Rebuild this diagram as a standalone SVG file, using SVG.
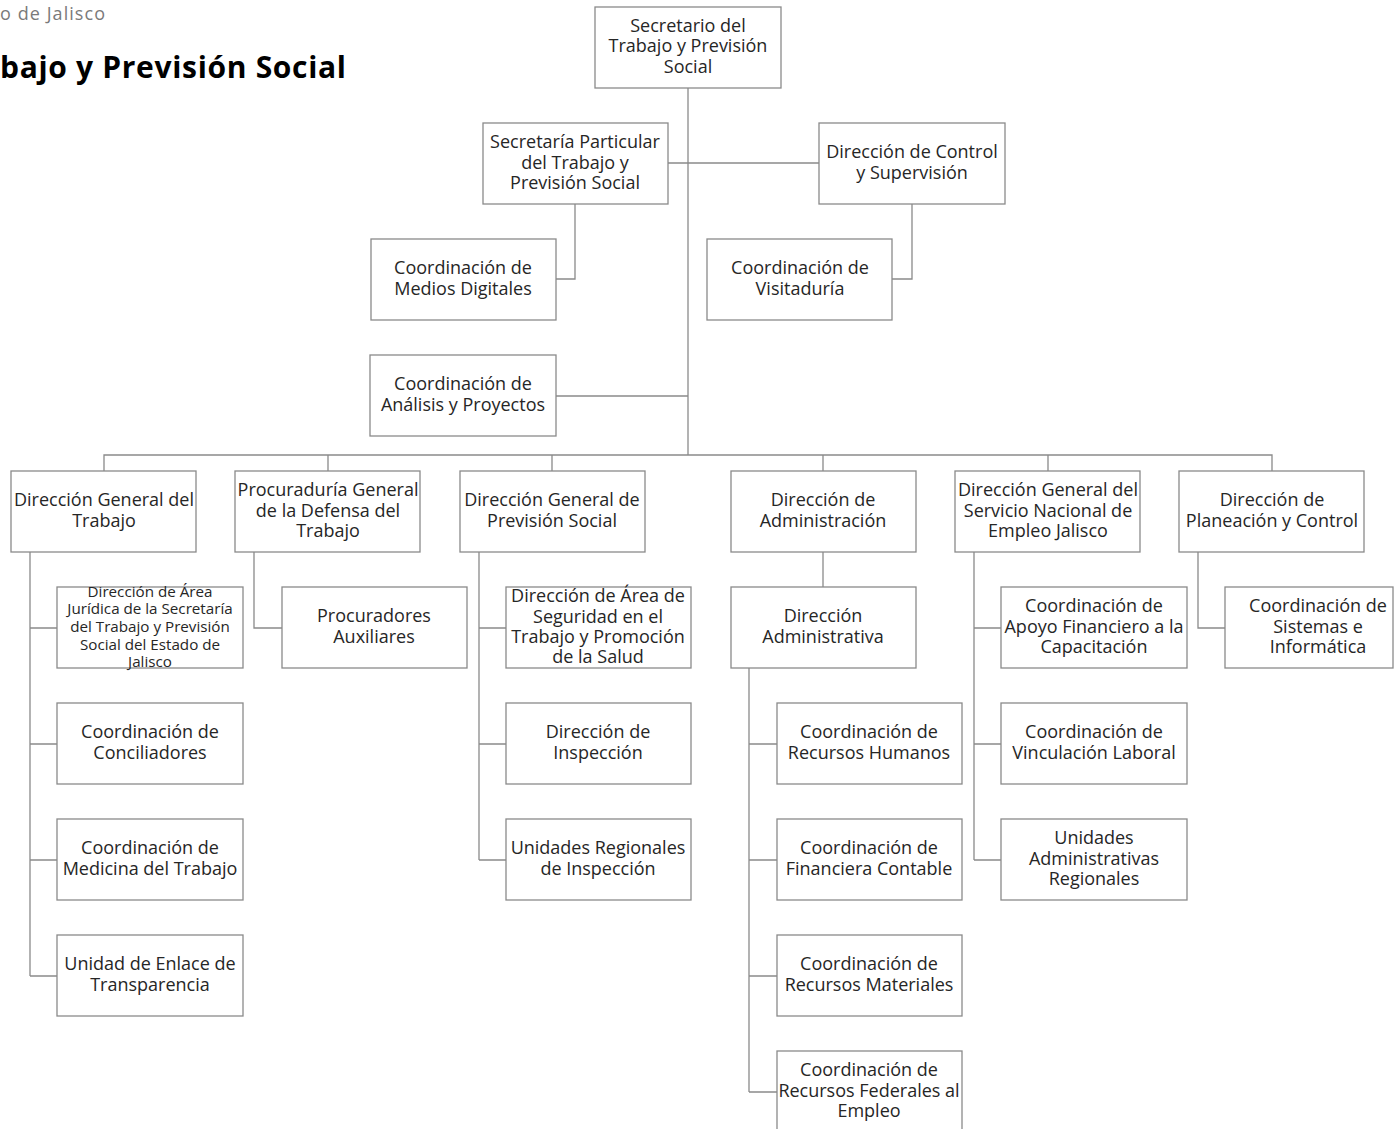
<svg xmlns="http://www.w3.org/2000/svg" width="1394" height="1129" viewBox="0 0 1394 1129">
<style>
.b{fill:#fff;stroke:#8a8a8a;stroke-width:1.3}
.t{font-family:"Open Sans","Liberation Sans",sans-serif;font-size:18px;fill:#262626;text-anchor:middle}
.s{font-size:15.2px}
.c{fill:none;stroke:#8a8a8a;stroke-width:1.3}
</style>
<rect width="1394" height="1129" fill="#fff"/>
<text x="0" y="20" textLength="105" style="font-family:'Open Sans','Liberation Sans',sans-serif;font-size:18px;fill:#7a7a7a">o de Jalisco</text>
<text x="0" y="78" textLength="346" style="font-family:'Open Sans','Liberation Sans',sans-serif;font-size:30px;font-weight:bold;fill:#000">bajo y Previsión Social</text>
<g id="connectors" class="c">
<path d="M688 88V455"/>
<path d="M668 163H819"/>
<path d="M575 204V279H556"/>
<path d="M912 204V279H892"/>
<path d="M556 396H688"/>
<path d="M104 471V455H1272V471"/>
<path d="M328 455V471M552 455V471M823 455V471M1048 455V471"/>
<path d="M30 552V976M30 628H57M30 744H57M30 860H57M30 976H57"/>
<path d="M254 552V628H282"/>
<path d="M479 552V860M479 628H506M479 744H506M479 860H506"/>
<path d="M823 552V587"/>
<path d="M749 668V1092M749 744H777M749 860H777M749 976H777M749 1092H777"/>
<path d="M974 552V860M974 628H1001M974 744H1001M974 860H1001"/>
<path d="M1198 552V628H1225"/>
</g>
<g id="n-secretario"><rect class="b" x="595" y="7" width="186" height="81"/><text class="t"><tspan x="688" y="32">Secretario del</tspan><tspan x="688" y="52">Trabajo y Previsión</tspan><tspan x="688" y="73">Social</tspan></text></g>
<g id="n-particular"><rect class="b" x="483" y="123" width="185" height="81"/><text class="t"><tspan x="575" y="148">Secretaría Particular</tspan><tspan x="575" y="169">del Trabajo y</tspan><tspan x="575" y="189">Previsión Social</tspan></text></g>
<g id="n-control"><rect class="b" x="819" y="123" width="186" height="81"/><text class="t"><tspan x="912" y="158">Dirección de Control</tspan><tspan x="912" y="179">y Supervisión</tspan></text></g>
<g id="n-medios"><rect class="b" x="371" y="239" width="185" height="81"/><text class="t"><tspan x="463" y="274">Coordinación de</tspan><tspan x="463" y="295">Medios Digitales</tspan></text></g>
<g id="n-visitaduria"><rect class="b" x="707" y="239" width="185" height="81"/><text class="t"><tspan x="800" y="274">Coordinación de</tspan><tspan x="800" y="295">Visitaduría</tspan></text></g>
<g id="n-analisis"><rect class="b" x="370" y="355" width="186" height="81"/><text class="t"><tspan x="463" y="390">Coordinación de</tspan><tspan x="463" y="411">Análisis y Proyectos</tspan></text></g>
<g id="n-dgt"><rect class="b" x="11" y="471" width="185" height="81"/><text class="t"><tspan x="104" y="506">Dirección General del</tspan><tspan x="104" y="527">Trabajo</tspan></text></g>
<g id="n-procuraduria"><rect class="b" x="235" y="471" width="185" height="81"/><text class="t"><tspan x="328" y="496">Procuraduría General</tspan><tspan x="328" y="517">de la Defensa del</tspan><tspan x="328" y="537">Trabajo</tspan></text></g>
<g id="n-dgps"><rect class="b" x="460" y="471" width="185" height="81"/><text class="t"><tspan x="552" y="506">Dirección General de</tspan><tspan x="552" y="527">Previsión Social</tspan></text></g>
<g id="n-admin"><rect class="b" x="731" y="471" width="185" height="81"/><text class="t"><tspan x="823" y="506">Dirección de</tspan><tspan x="823" y="527">Administración</tspan></text></g>
<g id="n-snej"><rect class="b" x="955" y="471" width="185" height="81"/><text class="t"><tspan x="1048" y="496">Dirección General del</tspan><tspan x="1048" y="517">Servicio Nacional de</tspan><tspan x="1048" y="537">Empleo Jalisco</tspan></text></g>
<g id="n-planeacion"><rect class="b" x="1179" y="471" width="185" height="81"/><text class="t"><tspan x="1272" y="506">Dirección de</tspan><tspan x="1272" y="527">Planeación y Control</tspan></text></g>
<g id="n-juridica"><rect class="b" x="57" y="587" width="186" height="81"/><text class="t s"><tspan x="150" y="597">Dirección de Área</tspan><tspan x="150" y="614">Jurídica de la Secretaría</tspan><tspan x="150" y="632">del Trabajo y Previsión</tspan><tspan x="150" y="650">Social del Estado de</tspan><tspan x="150" y="667">Jalisco</tspan></text></g>
<g id="n-conciliadores"><rect class="b" x="57" y="703" width="186" height="81"/><text class="t"><tspan x="150" y="738">Coordinación de</tspan><tspan x="150" y="759">Conciliadores</tspan></text></g>
<g id="n-medicina"><rect class="b" x="57" y="819" width="186" height="81"/><text class="t"><tspan x="150" y="854">Coordinación de</tspan><tspan x="150" y="875">Medicina del Trabajo</tspan></text></g>
<g id="n-transparencia"><rect class="b" x="57" y="935" width="186" height="81"/><text class="t"><tspan x="150" y="970">Unidad de Enlace de</tspan><tspan x="150" y="991">Transparencia</tspan></text></g>
<g id="n-procuradores"><rect class="b" x="282" y="587" width="185" height="81"/><text class="t"><tspan x="374" y="622">Procuradores</tspan><tspan x="374" y="643">Auxiliares</tspan></text></g>
<g id="n-seguridad"><rect class="b" x="506" y="587" width="185" height="81"/><text class="t"><tspan x="598" y="602">Dirección de Área de</tspan><tspan x="598" y="623">Seguridad en el</tspan><tspan x="598" y="643">Trabajo y Promoción</tspan><tspan x="598" y="663">de la Salud</tspan></text></g>
<g id="n-inspeccion"><rect class="b" x="506" y="703" width="185" height="81"/><text class="t"><tspan x="598" y="738">Dirección de</tspan><tspan x="598" y="759">Inspección</tspan></text></g>
<g id="n-regionales-insp"><rect class="b" x="506" y="819" width="185" height="81"/><text class="t"><tspan x="598" y="854">Unidades Regionales</tspan><tspan x="598" y="875">de Inspección</tspan></text></g>
<g id="n-dir-administrativa"><rect class="b" x="731" y="587" width="185" height="81"/><text class="t"><tspan x="823" y="622">Dirección</tspan><tspan x="823" y="643">Administrativa</tspan></text></g>
<g id="n-rh"><rect class="b" x="777" y="703" width="185" height="81"/><text class="t"><tspan x="869" y="738">Coordinación de</tspan><tspan x="869" y="759">Recursos Humanos</tspan></text></g>
<g id="n-financiera"><rect class="b" x="777" y="819" width="185" height="81"/><text class="t"><tspan x="869" y="854">Coordinación de</tspan><tspan x="869" y="875">Financiera Contable</tspan></text></g>
<g id="n-materiales"><rect class="b" x="777" y="935" width="185" height="81"/><text class="t"><tspan x="869" y="970">Coordinación de</tspan><tspan x="869" y="991">Recursos Materiales</tspan></text></g>
<g id="n-federales"><rect class="b" x="777" y="1051" width="185" height="81"/><text class="t"><tspan x="869" y="1076">Coordinación de</tspan><tspan x="869" y="1097">Recursos Federales al</tspan><tspan x="869" y="1117">Empleo</tspan></text></g>
<g id="n-apoyo"><rect class="b" x="1001" y="587" width="186" height="81"/><text class="t"><tspan x="1094" y="612">Coordinación de</tspan><tspan x="1094" y="633">Apoyo Financiero a la</tspan><tspan x="1094" y="653">Capacitación</tspan></text></g>
<g id="n-vinculacion"><rect class="b" x="1001" y="703" width="186" height="81"/><text class="t"><tspan x="1094" y="738">Coordinación de</tspan><tspan x="1094" y="759">Vinculación Laboral</tspan></text></g>
<g id="n-uar"><rect class="b" x="1001" y="819" width="186" height="81"/><text class="t"><tspan x="1094" y="844">Unidades</tspan><tspan x="1094" y="865">Administrativas</tspan><tspan x="1094" y="885">Regionales</tspan></text></g>
<g id="n-sistemas"><rect class="b" x="1225" y="587" width="168" height="81"/><text class="t"><tspan x="1318" y="612">Coordinación de</tspan><tspan x="1318" y="633">Sistemas e</tspan><tspan x="1318" y="653">Informática</tspan></text></g>
</svg>
